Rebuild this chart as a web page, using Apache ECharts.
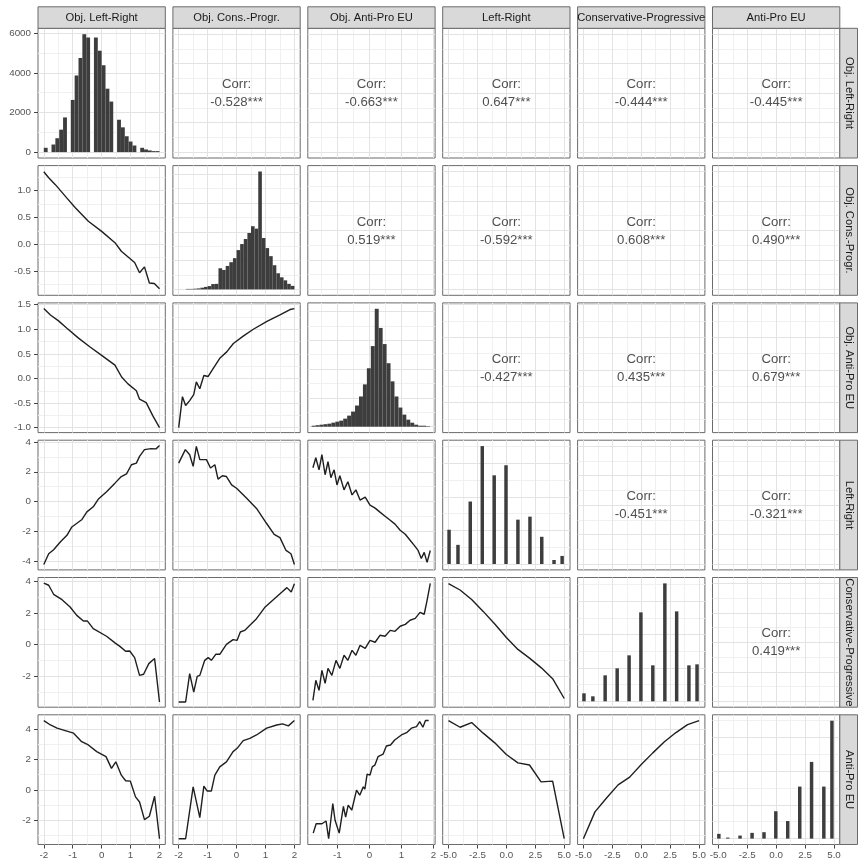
<!DOCTYPE html>
<html>
<head>
<meta charset="utf-8">
<script src="https://cdn.jsdelivr.net/npm/echarts@6/dist/echarts.min.js"></script>
<style>
  html, body { margin: 0; padding: 0; background: #ffffff; }
  #chart { width: 858px; height: 864px; }
</style>
</head>
<body>
<div id="chart"></div>
<script>
// ---------- variables ----------
const varNames = ['Obj. Left-Right', 'Obj. Cons.-Progr.', 'Obj. Anti-Pro EU',
                  'Left-Right', 'Conservative-Progressive', 'Anti-Pro EU'];

// ---------- tick labels ----------
const ticksObjective = [-2, -1, 0, 1, 2];
const ticksObjAntiPro = [-1, 0, 1, 2];
const ticksScale = [-5, -2.5, 0, 2.5, 5];
const ticksRowConsProgr = [-0.5, 0, 0.5, 1.0];
const ticksRowAntiPro = [-1.0, -0.5, 0, 0.5, 1.0, 1.5];
const ticksRowSelf = [-4, -2, 0, 2, 4];
const ticksCounts = [0, 2000, 4000, 6000, 8000];

// ---------- correlations (row, column, label) ----------
const corrLabels = [
  [0, 1, '-0.528***'], [0, 2, '-0.663***'], [0, 3, '0.647***'], [0, 4, '-0.444***'], [0, 5, '-0.445***'],
  [1, 2, '0.519***'], [1, 3, '-0.592***'], [1, 4, '0.608***'], [1, 5, '0.490***'],
  [2, 3, '-0.427***'], [2, 4, '0.435***'], [2, 5, '0.679***'],
  [3, 4, '-0.451***'], [3, 5, '-0.321***'],
  [4, 5, '0.419***']
];

// ---------- histograms on the diagonal ----------
const objLRBinStart = -2.0, objLRBinWidth = 4 / 30;
const objLRCounts = [217, 0, 383, 700, 1133, 1750, 0, 2633, 3867, 4750, 5950, 5783, 0, 5783, 5117,
                     4383, 3200, 2550, 0, 1633, 1250, 800, 533, 333, 0, 217, 133, 83, 50, 50];
const objCPBinStart = -1.75, objCPBinWidth = 0.125;
const objCPCounts = [35, 35, 49, 70, 119, 175, 231, 371, 385, 1470, 1351, 1631, 1890, 2170, 2730,
                     3150, 3500, 3920, 4389, 4221, 8190, 3570, 2870, 2310, 1680, 1120, 840, 630, 385, 245];
const objAPBinStart = -1.8, objAPBinWidth = 0.123;
const objAPCounts = [70, 105, 140, 175, 210, 280, 350, 420, 560, 770, 1050, 1470, 2100, 2940, 4060,
                     5600, 8190, 6860, 5740, 4410, 3150, 2100, 1330, 840, 490, 280, 140, 70, 70, 35];
const scaleBarX = [-4.95, -4.18, -3.12, -2.08, -1.05, -0.03, 1.0, 2.04, 3.06, 4.12, 4.82];
const scaleBarWidth = 0.3;
const lrCounts = [2040, 1140, 3720, 7020, 5280, 5880, 2640, 2820, 1620, 240, 480];
const cpCounts = [480, 300, 1560, 1980, 2760, 5340, 2160, 7080, 5400, 2160, 2220];
const apCounts = [280, 60, 180, 340, 380, 1620, 1040, 3080, 4540, 3080, 6980];

// ---------- conditional means (x, y) ----------
const objCPbyObjLR = [[-2, 1.35], [-1.83, 1.24], [-1.6, 1.11], [-1.2, 0.86], [-0.91, 0.68], [-0.46, 0.43],
  [0, 0.24], [0.46, 0.03], [0.68, -0.13], [1.14, -0.34], [1.31, -0.53], [1.48, -0.42], [1.65, -0.72],
  [1.82, -0.73], [2, -0.83]];
const objAPbyObjLR = [[-2, 1.42], [-1.77, 1.29], [-1.49, 1.17], [-1.2, 1.02], [-0.8, 0.82], [-0.4, 0.64],
  [0, 0.47], [0.46, 0.27], [0.69, 0.03], [0.91, -0.11], [1.2, -0.25], [1.31, -0.42], [1.54, -0.49],
  [1.77, -0.76], [2, -1.0]];
const objAPbyObjCP = [[-2, -1.0], [-1.87, -0.37], [-1.76, -0.55], [-1.62, -0.45], [-1.48, -0.33],
  [-1.39, -0.07], [-1.27, -0.21], [-1.13, 0.06], [-0.98, 0.04], [-0.81, 0.2], [-0.58, 0.41],
  [-0.34, 0.54], [-0.11, 0.71], [0.23, 0.86], [0.58, 1.0], [1.05, 1.16], [1.5, 1.29], [1.85, 1.4], [2, 1.42]];
const lrByObjLR = [[-2, -4.2], [-1.83, -3.48], [-1.66, -3.21], [-1.43, -2.7], [-1.2, -2.25], [-1.03, -1.69],
  [-0.68, -1.19], [-0.51, -0.68], [-0.29, -0.34], [-0.12, 0.16], [0.17, 0.67], [0.46, 1.24], [0.68, 1.68],
  [0.86, 1.86], [1.03, 2.47], [1.2, 2.58], [1.31, 3.03], [1.48, 3.48], [1.71, 3.55], [1.88, 3.53], [2, 3.75]];
const lrByObjCP = [[-2, 2.58], [-1.77, 3.48], [-1.62, 3.14], [-1.5, 2.36], [-1.39, 3.7], [-1.27, 2.81],
  [-1.04, 2.81], [-0.9, 2.25], [-0.75, 2.47], [-0.64, 1.51], [-0.49, 1.73], [-0.35, 1.68], [-0.17, 1.12],
  [0, 0.9], [0.35, 0.23], [0.69, -0.45], [1.04, -1.46], [1.3, -2.18], [1.5, -2.4], [1.71, -3.26],
  [1.88, -3.48], [2, -4.2]];
const lrByObjAP = [[-1.76, 2.27], [-1.67, 2.94], [-1.57, 2.13], [-1.48, 3.14], [-1.38, 1.8], [-1.29, 2.67],
  [-1.2, 1.6], [-1.1, 2.13], [-1.01, 1.12], [-0.92, 1.73], [-0.79, 0.79], [-0.67, 1.33], [-0.54, 0.45],
  [-0.42, 0.79], [-0.29, 0.11], [-0.13, 0.31], [0.02, -0.23], [0.18, -0.43], [0.33, -0.7], [0.49, -0.97],
  [0.65, -1.24], [0.8, -1.5], [0.96, -1.91], [1.12, -2.18], [1.27, -2.58], [1.4, -2.92], [1.52, -3.26],
  [1.62, -3.8], [1.71, -3.39], [1.8, -4.06], [1.9, -3.26]];
const cpByObjLR = [[-2, 3.89], [-1.83, 3.75], [-1.66, 3.18], [-1.37, 2.84], [-1.09, 2.38], [-0.86, 1.85],
  [-0.63, 1.49], [-0.49, 1.49], [-0.29, 1.01], [0.17, 0.53], [0.46, 0.11], [0.63, -0.11], [0.83, -0.42],
  [0.97, -0.4], [1.14, -0.82], [1.31, -1.94], [1.45, -1.87], [1.63, -1.2], [1.83, -0.88], [2, -3.62]];
const cpByObjCP = [[-2, -3.62], [-1.76, -3.62], [-1.62, -1.83], [-1.48, -3.0], [-1.36, -2.0], [-1.27, -1.94],
  [-1.1, -0.99], [-0.98, -0.82], [-0.87, -0.99], [-0.72, -0.61], [-0.58, -0.61], [-0.35, 0.02],
  [-0.12, 0.32], [0.02, 0.27], [0.13, 0.8], [0.28, 0.9], [0.46, 1.22], [0.69, 1.64], [0.99, 2.38],
  [1.27, 2.84], [1.57, 3.32], [1.74, 3.6], [1.89, 3.32], [2, 3.85]];
const cpByObjAP = [[-1.76, -3.52], [-1.67, -2.25], [-1.57, -2.89], [-1.48, -1.62], [-1.38, -2.44],
  [-1.29, -1.5], [-1.17, -1.94], [-1.04, -0.99], [-0.92, -1.5], [-0.79, -0.67], [-0.67, -0.99],
  [-0.54, -0.36], [-0.42, -0.67], [-0.29, -0.04], [-0.13, -0.23], [0.02, 0.27], [0.18, 0.15], [0.33, 0.59],
  [0.49, 0.53], [0.65, 0.9], [0.8, 0.84], [0.96, 1.16], [1.12, 1.28], [1.27, 1.54], [1.43, 1.66],
  [1.58, 2.04], [1.71, 1.92], [1.8, 2.8], [1.9, 3.87]];
const cpByLR = [[-5, 3.85], [-4, 3.45], [-3, 2.85], [-2, 2.1], [-1, 1.3], [0, 0.45], [1, -0.3], [2, -0.85],
  [3, -1.45], [4, -2.15], [5, -3.4]];
const apByObjLR = [[-2, 4.57], [-1.77, 4.28], [-1.54, 4.07], [-1.26, 3.91], [-0.97, 3.74], [-0.69, 3.18],
  [-0.46, 2.96], [-0.17, 2.52], [0.15, 2.19], [0.34, 1.42], [0.49, 1.85], [0.68, 0.97], [0.83, 0.6],
  [0.99, 0.58], [1.17, -0.46], [1.31, -0.8], [1.48, -1.96], [1.65, -1.74], [1.83, -0.42], [2, -3.22]];
const apByObjCP = [[-2, -3.22], [-1.76, -3.22], [-1.5, 0.2], [-1.27, -1.83], [-1.13, 0.25], [-1.02, -0.07],
  [-0.87, -0.07], [-0.75, 0.97], [-0.58, 1.52], [-0.35, 1.85], [-0.12, 2.52], [0.02, 2.74], [0.23, 3.25],
  [0.46, 3.4], [0.69, 3.62], [1.04, 4.07], [1.39, 4.28], [1.59, 4.35], [1.79, 4.22], [2, 4.57]];
const apByObjAP = [[-1.75, -2.85], [-1.66, -2.23], [-1.48, -2.23], [-1.35, -2.05], [-1.27, -3.22],
  [-1.14, -0.9], [-1.07, -2.0], [-0.94, -2.85], [-0.81, -1.08], [-0.74, -1.79], [-0.66, -1.01],
  [-0.55, -1.34], [-0.4, -0.02], [-0.3, -0.35], [-0.19, 0.2], [-0.14, 0.05], [-0.07, 1.04], [0.02, 0.97],
  [0.09, 1.52], [0.17, 1.63], [0.27, 2.19], [0.43, 2.36], [0.53, 2.89], [0.66, 2.96], [0.79, 3.29],
  [1.0, 3.62], [1.16, 3.77], [1.31, 4.07], [1.47, 4.17], [1.57, 4.5], [1.67, 4.13], [1.75, 4.57], [1.85, 4.57]];
const apByLR = [[-5, 4.57], [-4, 4.13], [-3, 4.44], [-2, 3.74], [-1, 3.1], [0, 2.33], [1, 1.78], [2, 1.64],
  [3, 0.53], [4, 0.58], [5, -3.22]];
const apByCP = [[-5, -3.22], [-4, -1.45], [-3, -0.53], [-2, 0.33], [-1, 0.84], [0, 1.67], [1, 2.44],
  [2, 3.17], [3, 3.78], [4, 4.3], [5, 4.57]];

// ---------- panel contents ----------
const lowerLines = [
  [1, 0, objCPbyObjLR],
  [2, 0, objAPbyObjLR], [2, 1, objAPbyObjCP],
  [3, 0, lrByObjLR], [3, 1, lrByObjCP], [3, 2, lrByObjAP],
  [4, 0, cpByObjLR], [4, 1, cpByObjCP], [4, 2, cpByObjAP], [4, 3, cpByLR],
  [5, 0, apByObjLR], [5, 1, apByObjCP], [5, 2, apByObjAP], [5, 3, apByLR], [5, 4, apByCP]
];
const histBins = (start, width, counts) => counts.map((n, i) => [start + i * width, start + (i + 1) * width, n]);
const barBins = (xs, width, counts) => counts.map((n, i) => [xs[i] - width / 2, xs[i] + width / 2, n]);
const diagBins = [
  histBins(objLRBinStart, objLRBinWidth, objLRCounts),
  histBins(objCPBinStart, objCPBinWidth, objCPCounts),
  histBins(objAPBinStart, objAPBinWidth, objAPCounts),
  barBins(scaleBarX, scaleBarWidth, lrCounts),
  barBins(scaleBarX, scaleBarWidth, cpCounts),
  barBins(scaleBarX, scaleBarWidth, apCounts)
];

// ---------- scales ----------
const varRanges = [[-2.2, 2.2], [-2.2, 2.2], [-1.92, 2.05], [-5.5, 5.5], [-5.5, 5.5], [-5.5, 5.5]];
const varTicks = [ticksObjective, ticksObjective, ticksObjAntiPro, ticksScale, ticksScale, ticksScale];
const varDecimals = [0, 0, 0, 1, 1, 1];
const meanRanges = [null, [-0.95, 1.465], [-1.1, 1.535], [-4.56, 4.11], [-3.95, 4.24], [-3.6, 4.95]];
const meanTicks = [null, ticksRowConsProgr, ticksRowAntiPro, ticksRowSelf, ticksRowSelf, ticksRowSelf];
const meanDecimals = [0, 1, 1, 0, 0, 0];

// ---------- layout ----------
const LEFT = 38, TOP = 28.3, STEP_X = 134.9, STEP_Y = 137.3, PW = 127.3, PH = 129.7;
const FONT = '"Liberation Sans", Arial, Helvetica, sans-serif';
const BORDER = '#6b6b6b';

function inRange(v, r) { return v >= r[0] - 1e-9 && v <= r[1] + 1e-9; }
function minorBreaks(majors, r) {
  const step = majors[1] - majors[0];
  const out = [];
  for (let v = majors[0] - step / 2; v <= majors[majors.length - 1] + step / 2 + 1e-9; v += step) {
    if (v > r[0] && v < r[1]) out.push(+v.toFixed(6));
  }
  return out;
}

function histRender(params, api) {
  const top = api.coord([api.value(0), api.value(2)]);
  const base = api.coord([api.value(1), 0]);
  return {
    type: 'rect',
    shape: { x: top[0], y: top[1], width: base[0] - top[0], height: base[1] - top[1] },
    style: { fill: '#3d3d3d' }
  };
}

const grids = [], xAxes = [], yAxes = [], series = [], graphics = [];

for (let r = 0; r < 6; r++) {
  for (let c = 0; c < 6; c++) {
    const idx = r * 6 + c;
    const xr = varRanges[c];
    const xt = varTicks[c].filter(v => inRange(v, xr));
    let yr, ytAll, yDec;
    if (r === c) {
      const maxCount = Math.max(...diagBins[r].map(d => d[2]));
      yr = [-0.05 * maxCount, 1.05 * maxCount];
      ytAll = ticksCounts; yDec = 0;
    } else if (r > c) {
      yr = meanRanges[r]; ytAll = meanTicks[r]; yDec = meanDecimals[r];
    } else {
      yr = varRanges[r]; ytAll = varTicks[r]; yDec = varDecimals[r];
    }
    const yt = ytAll.filter(v => inRange(v, yr));

    grids.push({
      left: LEFT + c * STEP_X, top: TOP + r * STEP_Y, width: PW, height: PH,
      show: true, backgroundColor: '#ffffff', borderColor: BORDER, borderWidth: 1,
      containLabel: false, outerBoundsMode: 'none'
    });

    const showX = r === 5, showY = c === 0;
    xAxes.push({
      type: 'value', gridIndex: idx, min: xr[0], max: xr[1],
      axisLine: { show: false, onZero: false },
      splitLine: { show: false }, minorSplitLine: { show: false },
      axisTick: { show: showX, customValues: xt, length: 4, lineStyle: { color: '#444', width: 1 } },
      axisLabel: {
        show: showX, customValues: xt, margin: 6, color: '#555', fontSize: 9.8, fontFamily: FONT,
        formatter: v => (+v).toFixed(varDecimals[c])
      }
    });
    yAxes.push({
      type: 'value', gridIndex: idx, min: yr[0], max: yr[1],
      axisLine: { show: false, onZero: false },
      splitLine: { show: false }, minorSplitLine: { show: false },
      axisTick: { show: showY, customValues: yt, length: 4, lineStyle: { color: '#444', width: 1 } },
      axisLabel: {
        show: showY, customValues: yt, margin: 7, color: '#555', fontSize: 9.8, fontFamily: FONT,
        formatter: v => (+v).toFixed(yDec)
      }
    });

    // panel grid: major breaks plus minor breaks halfway between, kept beneath the marks
    const major = { color: '#e3e3e3', width: 1, type: 'solid' };
    const minor = { color: '#f0f0f0', width: 1, type: 'solid' };
    const lines = [];
    minorBreaks(varTicks[c], xr).forEach(v => lines.push({ xAxis: v, lineStyle: minor }));
    minorBreaks(ytAll, yr).forEach(v => lines.push({ yAxis: v, lineStyle: minor }));
    xt.forEach(v => lines.push({ xAxis: v, lineStyle: major }));
    yt.forEach(v => lines.push({ yAxis: v, lineStyle: major }));
    series.push({
      type: 'line', xAxisIndex: idx, yAxisIndex: idx, data: [], silent: true, z: 1,
      markLine: {
        z: 1, zlevel: 0, silent: true, animation: false, symbol: ['none', 'none'], precision: 4,
        label: { show: false }, emphasis: { disabled: true }, data: lines
      }
    });

    if (r === c) {
      series.push({
        type: 'custom', xAxisIndex: idx, yAxisIndex: idx, z: 8, silent: true,
        renderItem: histRender, data: diagBins[r],
        dimensions: ['x0', 'x1', 'count'], encode: { x: [0, 1], y: 2 }
      });
    }
  }
}

lowerLines.forEach(([r, c, pts]) => {
  const idx = r * 6 + c;
  series.push({
    type: 'line', xAxisIndex: idx, yAxisIndex: idx, data: pts, z: 8, silent: true,
    showSymbol: false, symbol: 'none', smooth: false, clip: true,
    lineStyle: { color: '#1f1f1f', width: 1.4 }
  });
});

// strips along the top and the right-hand side
for (let k = 0; k < 6; k++) {
  const x = LEFT + k * STEP_X;
  graphics.push({
    type: 'rect', shape: { x: x, y: 6.8, width: PW, height: TOP - 6.8 },
    style: { fill: '#d9d9d9', stroke: BORDER, lineWidth: 1 }, silent: true, z: 10
  });
  graphics.push({
    type: 'text', x: x + PW / 2, y: (6.8 + TOP) / 2 + 0.5, silent: true, z: 11,
    style: { text: varNames[k], fill: '#1a1a1a', font: '11.2px ' + FONT,
             align: 'center', verticalAlign: 'middle', textAlign: 'center', textVerticalAlign: 'middle' }
  });
  const y = TOP + k * STEP_Y;
  const sx = LEFT + 5 * STEP_X + PW;
  graphics.push({
    type: 'rect', shape: { x: sx, y: y, width: 858 - sx - 0.5, height: PH },
    style: { fill: '#d9d9d9', stroke: BORDER, lineWidth: 1 }, silent: true, z: 10
  });
  graphics.push({
    type: 'text', x: sx + (858 - sx) / 2, y: y + PH / 2, rotation: -Math.PI / 2, silent: true, z: 11,
    style: { text: varNames[k], fill: '#1a1a1a', font: '11.2px ' + FONT,
             align: 'center', verticalAlign: 'middle', textAlign: 'center', textVerticalAlign: 'middle' }
  });
}

// correlation labels in the upper panels
corrLabels.forEach(([r, c, label]) => {
  const cx = LEFT + c * STEP_X + PW / 2;
  const cy = TOP + r * STEP_Y + PH / 2;
  [['Corr:', cy - 8.5], [label, cy + 9.5]].forEach(([t, ty]) => {
    graphics.push({
      type: 'text', x: cx, y: ty, silent: true, z: 12,
      style: { text: t, fill: '#505050', font: '13.2px ' + FONT,
               align: 'center', verticalAlign: 'middle', textAlign: 'center', textVerticalAlign: 'middle' }
    });
  });
});

const chart = echarts.init(document.getElementById('chart'), null, { renderer: 'canvas' });
chart.setOption({
  animation: false,
  backgroundColor: '#ffffff',
  grid: grids,
  xAxis: xAxes,
  yAxis: yAxes,
  series: series,
  graphic: { elements: graphics }
});
</script>
</body>
</html>
